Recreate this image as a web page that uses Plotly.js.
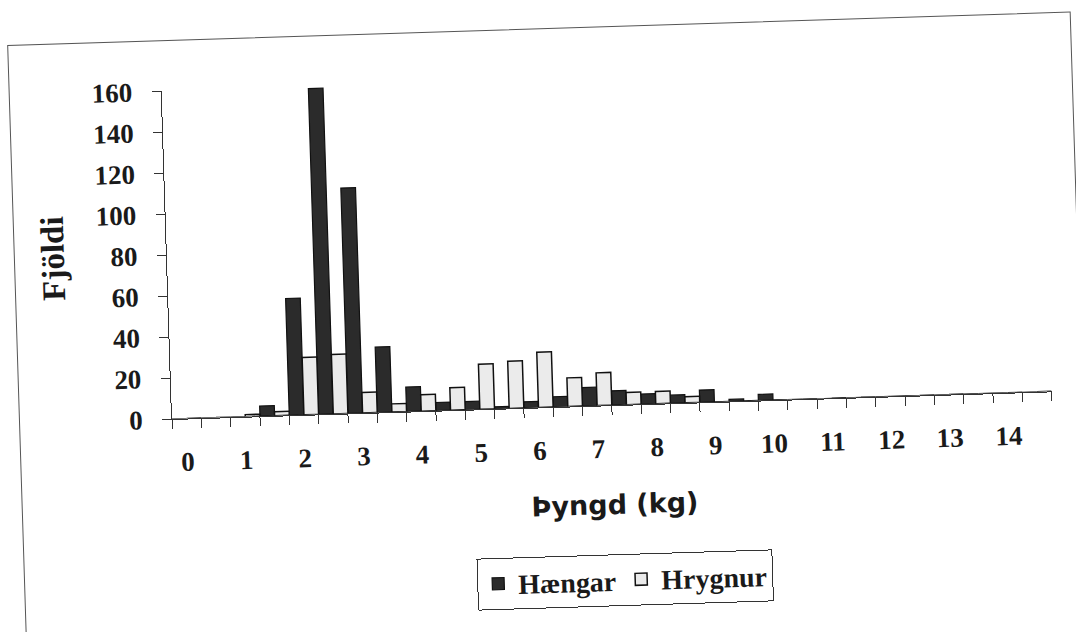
<!DOCTYPE html>
<html>
<head>
<meta charset="utf-8">
<script src="https://cdn.plot.ly/plotly-3.0.1.min.js"></script>
<style>
  html, body { margin: 0; padding: 0; background: #ffffff; overflow: hidden; }
  #wrap { position: absolute; left: 0; top: 0; width: 1076px; height: 632px;
          transform: rotate(-1.8deg); transform-origin: 172px 419px; }
  #frame { position: absolute; left: 19px; top: 40px; width: 1062px; height: 660px;
           border: 1px solid #555; pointer-events: none; }
  #chart { position: absolute; left: 0; top: 0; width: 1076px; height: 632px; }
</style>
</head>
<body>
<div id="wrap">
  <div id="frame"></div>
  <div id="chart"></div>
</div>
<script>
// Weight classes (kg), one class every 0.5 kg
const weightBins = [0, 0.5, 1, 1.5, 2, 2.5, 3, 3.5, 4, 4.5, 5, 5.5, 6, 6.5, 7, 7.5,
                    8, 8.5, 9, 9.5, 10, 10.5, 11, 11.5, 12, 12.5, 13, 13.5, 14, 14.5];
// Counts of males (Hængar)
const haengar = [0, 0, 0, 5, 57, 159, 110, 32, 12, 4, 4, 1, 3, 5, 9, 7,
                 5, 4, 6, 1, 3, 0, 0, 0, 0, 0, 0, 0, 0, 0];
// Counts of females (Hrygnur)
const hrygnur = [0, 0, 1, 2, 28, 29, 10, 4, 8, 11, 22, 23, 27, 14, 16, 6,
                 6, 3, 0, 0, 0, 0, 0, 0, 0, 0, 0, 0, 0, 0];
// Axis labels
const xTickValues = [0, 1, 2, 3, 4, 5, 6, 7, 8, 9, 10, 11, 12, 13, 14];
const xTickLabels = ['0', '1', '2', '3', '4', '5', '6', '7', '8', '9', '10', '11', '12', '13', '14'];
const yTickValues = [0, 20, 40, 60, 80, 100, 120, 140, 160];
const seriesNames = ['Hængar', 'Hrygnur'];
const xTitle = 'Þyngd (kg)';
const yTitle = 'Fjöldi';

const boundaries = weightBins.map(v => v - 0.25).concat([weightBins[weightBins.length - 1] + 0.25]);

const serif = 'Liberation Serif, Times New Roman, serif';

const traces = [
  {
    type: 'bar', name: seriesNames[0], x: weightBins, y: haengar,
    marker: { color: '#2b2b2b', line: { color: '#111111', width: 1.2 } },
    hoverinfo: 'x+y+name'
  },
  {
    type: 'bar', name: seriesNames[1], x: weightBins, y: hrygnur,
    marker: { color: '#ebebeb', line: { color: '#111111', width: 1.5 } },
    hoverinfo: 'x+y+name'
  }
];

const layout = {
  width: 1076, height: 632,
  margin: { l: 172, r: 24, t: 91, b: 213 },
  paper_bgcolor: 'rgba(0,0,0,0)',
  plot_bgcolor: 'rgba(0,0,0,0)',
  barmode: 'group', bargap: 0, bargroupgap: 0,
  showlegend: true,
  legend: {
    orientation: 'h', x: 0.509, y: -0.534, xanchor: 'center', yanchor: 'middle',
    bordercolor: '#333333', borderwidth: 1, bgcolor: '#ffffff',
    font: { family: serif, size: 28, color: '#1a1a1a', weight: 'bold' },
    itemwidth: 30
  },
  xaxis: {
    range: [-0.25, 14.75],
    tickmode: 'array', tickvals: xTickValues, ticktext: xTickLabels,
    ticks: '', showgrid: false, zeroline: false,
    showline: true, linecolor: '#333333', linewidth: 1,
    ticklabelstandoff: 19,
    tickfont: { family: serif, size: 27, color: '#1a1a1a', weight: 'bold' },
    minor: { tickmode: 'array', tickvals: boundaries, ticks: 'outside', ticklen: 9,
             tickcolor: '#333333', tickwidth: 1, showgrid: false },
    title: { text: xTitle, standoff: 32,
             font: { family: 'DejaVu Sans, Verdana, sans-serif', size: 27, color: '#1a1a1a', weight: 'bold' } }
  },
  yaxis: {
    range: [0, 160],
    tickmode: 'array', tickvals: yTickValues,
    ticks: 'outside', ticklen: 9, tickcolor: '#333333', tickwidth: 1,
    showgrid: false, zeroline: false,
    showline: true, linecolor: '#333333', linewidth: 1,
    ticklabelstandoff: 14,
    tickfont: { family: serif, size: 27, color: '#1a1a1a', weight: 'bold' },
    title: { text: yTitle, standoff: 22,
             font: { family: serif, size: 33, color: '#1a1a1a', weight: 'bold' } }
  }
};

Plotly.newPlot('chart', traces, layout, { displayModeBar: false, staticPlot: true });
</script>
</body>
</html>
